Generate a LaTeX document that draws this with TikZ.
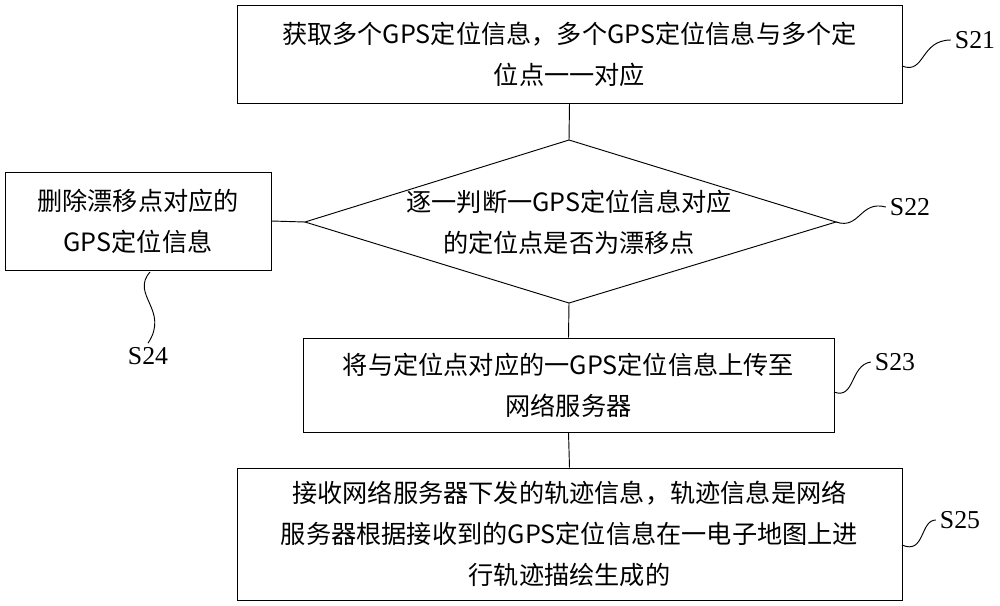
\documentclass[tikz,border=0pt]{standalone}
\usepackage{fontspec}
\newfontfamily\cjk{Noto Sans CJK SC}
\setmainfont{Liberation Serif}
\usetikzlibrary{shapes.geometric}
\begin{document}
\begin{tikzpicture}[
        x=0.03cm, y=-0.03cm,
        every node/.style={font=\cjk\fontsize{21.5}{35}\selectfont},
        stepbox/.style={draw, thick, align=center, inner sep=0pt},
        wave/.style={thick},
        tag/.style={font=\fontsize{22}{26}\selectfont}
    ]
    \useasboundingbox (0,0) rectangle (1000,605);

    \node[stepbox, minimum width=665*0.03cm, minimum height=98*0.03cm] (s21) at (569.5,54)
        {获取多个GPS定位信息，多个GPS定位信息与多个定\\位点一一对应};
    \draw[thick] (305,222) -- (569,140) -- (836,222) -- (569,303) -- cycle;
    \node[align=center] (s22) at (569,222) {逐一判断一GPS定位信息对应\\的定位点是否为漂移点};
    \node[stepbox, minimum width=266*0.03cm, minimum height=98*0.03cm] (s24) at (138,221)
        {删除漂移点对应的\\GPS定位信息};
    \node[stepbox, minimum width=531*0.03cm, minimum height=94*0.03cm] (s23) at (568.5,385)
        {将与定位点对应的一GPS定位信息上传至\\网络服务器};
    \node[stepbox, minimum width=665*0.03cm, minimum height=132*0.03cm] (s25) at (569.5,534)
        {接收网络服务器下发的轨迹信息，轨迹信息是网络\\服务器根据接收到的GPS定位信息在一电子地图上进\\行轨迹描绘生成的};

    % connectors
    \coordinate (top) at (569,140);
    \coordinate (bot) at (569,303);
    \coordinate (lft) at (305,222);
    \draw[thick] (s21.south) -- (top);
    \draw[thick] (bot) -- (s23.north);
    \draw[thick] (s23.south) -- (s25.north);
    \draw[thick] (lft) -- (s24.east);

    % step labels
    \node[tag] (t21) at (975,40) {S21};
    \node[tag] (t22) at (910,207) {S22};
    \node[tag] (t23) at (895,362) {S23};
    \node[tag] (t24) at (148,356) {S24};
    \node[tag] (t25) at (960,520) {S25};
    \draw[wave] (902,66) .. controls (925,75) and (920,40) .. (t21.west);
    \draw[wave] (836,222) .. controls (860,230) and (860,200) .. (t22.west);
    \draw[wave] (834,392) .. controls (855,400) and (850,365) .. (t23.west);
    \draw[wave] (150,272) .. controls (130,295) and (170,310) .. (t24.north);
    \draw[wave] (902,545) .. controls (925,555) and (920,520) .. (t25.west);
\end{tikzpicture}
\end{document}
